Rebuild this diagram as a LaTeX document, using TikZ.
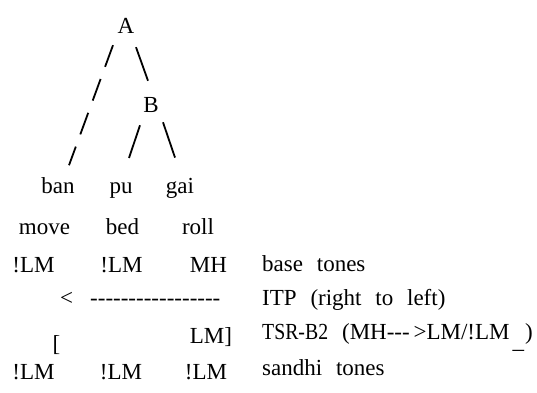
\documentclass[tikz,border=0pt]{standalone}
\usepackage{fontspec}
\usepackage{graphicx}
\setmainfont{Liberation Serif}
\usetikzlibrary{calc}
\newcommand\hy{-\kern0pt}
\newcommand\widesp{\spaceskip=0.6em\relax}
\begin{document}
\begin{tikzpicture}[x=1pt,y=-1pt,
  txt/.style={inner sep=0pt,anchor=base,font=\fontsize{23}{28}\selectfont},
  lbl/.style={inner sep=0pt,anchor=base west,font=\fontsize{23}{28}\selectfont},
  lble/.style={inner sep=0pt,anchor=base east,font=\fontsize{23}{28}\selectfont},
  edge/.style={line width=1.8pt},
  dashedge/.style={line width=1.8pt,dash pattern=on 23pt off 13pt}]
\useasboundingbox (0,0) rectangle (537,392);
% tree
\node[txt] (A) at (126,33) {A};
\node[txt] (B) at (151,112) {B};
\node[txt] (ban) at (58,193) {ban};
\node[txt] (pu) at (121,193) {pu};
\node[txt] (gai) at (180,193) {gai};
\draw[dashedge] ($(A.south)+(-13,12)$) -- ($(ban.north)+(11,-11.6)$);
\draw[edge] ($(A.south)+(10,14)$) -- ($(B.north)+(-3,-16)$);
\draw[edge] ($(B.south)+(-11,13)$) -- ($(pu.north)+(8,-24)$);
\draw[edge] ($(B.south)+(12,10)$) -- ($(gai.north)+(-5,-20)$);
% glosses
\node[txt] (move) at (44.5,234) {move};
\node[txt] (bed) at (122.5,234) {bed};
\node[txt] (roll) at (198,234) {roll};
% base tones
\node[txt] (b1) at (33.5,272) {!LM};
\node[txt] (b2) at (121.5,272) {!LM};
\node[txt] (b3) at (208.5,272) {MH};
\node[lbl] (basel) at (262,271) {\widesp base tones};
% ITP
\node[txt] (lt) at (66.5,305) {<};
\node[lbl] (dl) at (90,305) {\hy\hy\hy\hy\hy\hy\hy\hy\hy\hy\hy\hy\hy\hy\hy\hy\hy};
\node[lbl] (itp) at (262,305) {\widesp ITP (right to left)};
% TSR
\node[txt] (lb) at (56.5,351) {[};
\node[txt] (lm) at (211,343) {LM]};
\node[lbl] (tsr) at (262,339) {\scalebox{0.86}[1]{TSR-B2}};
\node[lble] (rule) at (533,339) {(MH\hy\hy\hy\,>LM/!LM\hspace{3pt}\raisebox{-9pt}{\_}\hspace{1pt})};
% sandhi
\node[txt] (s1) at (33.5,379) {!LM};
\node[txt] (s2) at (121,379) {!LM};
\node[txt] (s3) at (206,379) {!LM};
\node[lbl] (sandhi) at (262,375) {\widesp sandhi tones};
\end{tikzpicture}
\end{document}
